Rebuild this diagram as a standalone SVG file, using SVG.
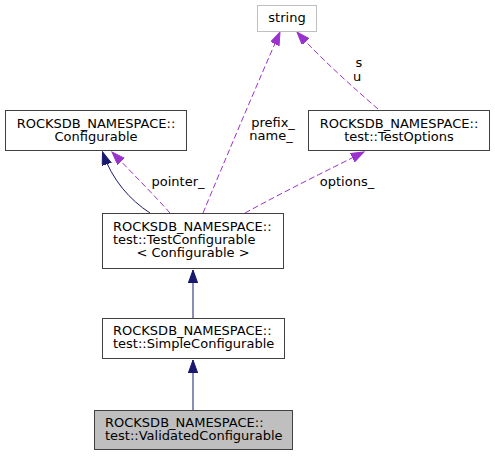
<svg xmlns="http://www.w3.org/2000/svg" width="495" height="456" viewBox="0 0 495 456">
<defs>
<style>
text{font-family:"DejaVu Sans","Liberation Sans",sans-serif;font-size:13px;fill:#000}
.box{fill:#fff;stroke:#404040;stroke-width:1}
.grey{fill:#bfbfbf;stroke:#404040;stroke-width:1}
.ext{fill:#fff;stroke:#bfbfbf;stroke-width:1}
.inh{fill:none;stroke:#191970;stroke-width:1}
.use{fill:none;stroke:#9a32cd;stroke-width:1;stroke-dasharray:6,3}
.m{text-anchor:middle}
</style>
<marker id="ah" markerWidth="14" markerHeight="10" refX="13" refY="4.7" orient="auto" markerUnits="userSpaceOnUse">
<polygon points="0,0 13,4.7 0,9.4" fill="#191970" stroke="#191970"/>
</marker>
<marker id="ap" markerWidth="14" markerHeight="10" refX="13" refY="4.7" orient="auto" markerUnits="userSpaceOnUse">
<polygon points="0,0 13,4.7 0,9.4" fill="#9a32cd" stroke="#9a32cd"/>
</marker>
</defs>
<rect width="495" height="456" fill="#fff"/>
<g id="connectors">
<path class="inh" d="M150,213 C130,200 112,180 102.5,152" marker-end="url(#ah)"/>
<path class="use" d="M170,213 C155,196 135,176 112,152" marker-end="url(#ap)"/>
<path class="use" d="M203,213 C225,160 258,82 280,32" marker-end="url(#ap)"/>
<path class="use" d="M245,213 C285,191 330,169 364,152" marker-end="url(#ap)"/>
<path class="use" d="M378,109 C355,89 322,60 297,32" marker-end="url(#ap)"/>
<path class="inh" d="M193,318 L193,270" marker-end="url(#ah)"/>
<path class="inh" d="M193,410 L193,360" marker-end="url(#ah)"/>
<text class="m" x="178" y="186">pointer_</text>
<text class="m" x="273" y="127">prefix_</text>
<text class="m" x="271" y="140">name_</text>
<text class="m" x="347" y="186">options_</text>
<text class="m" x="359" y="67">s</text>
<text class="m" x="357" y="81">u</text>
</g>
<g id="node_string">
<rect class="ext" x="257.5" y="5.5" width="59" height="26"/>
<text class="m" x="287" y="22">string</text>
</g>
<g id="node_configurable">
<rect class="box" x="5.5" y="110.5" width="181" height="40"/>
<text class="m" x="96" y="128">ROCKSDB_NAMESPACE::</text>
<text class="m" x="96" y="141">Configurable</text>
</g>
<g id="node_testoptions">
<rect class="box" x="308.5" y="110.5" width="181" height="40"/>
<text class="m" x="399" y="128">ROCKSDB_NAMESPACE::</text>
<text class="m" x="399" y="141">test::TestOptions</text>
</g>
<g id="node_testconfigurable">
<rect class="box" x="102.5" y="213.5" width="181" height="55"/>
<text x="113" y="231">ROCKSDB_NAMESPACE::</text>
<text x="113" y="244">test::TestConfigurable</text>
<text class="m" x="193" y="257">&lt; Configurable &gt;</text>
</g>
<g id="node_simpleconfigurable">
<rect class="box" x="102.5" y="318.5" width="182" height="40"/>
<text x="113" y="335">ROCKSDB_NAMESPACE::</text>
<text x="113" y="348">test::SimpleConfigurable</text>
</g>
<g id="node_validatedconfigurable">
<rect class="grey" x="94.5" y="410.5" width="198" height="39"/>
<text x="105" y="427">ROCKSDB_NAMESPACE::</text>
<text x="105" y="440">test::ValidatedConfigurable</text>
</g>
</svg>
